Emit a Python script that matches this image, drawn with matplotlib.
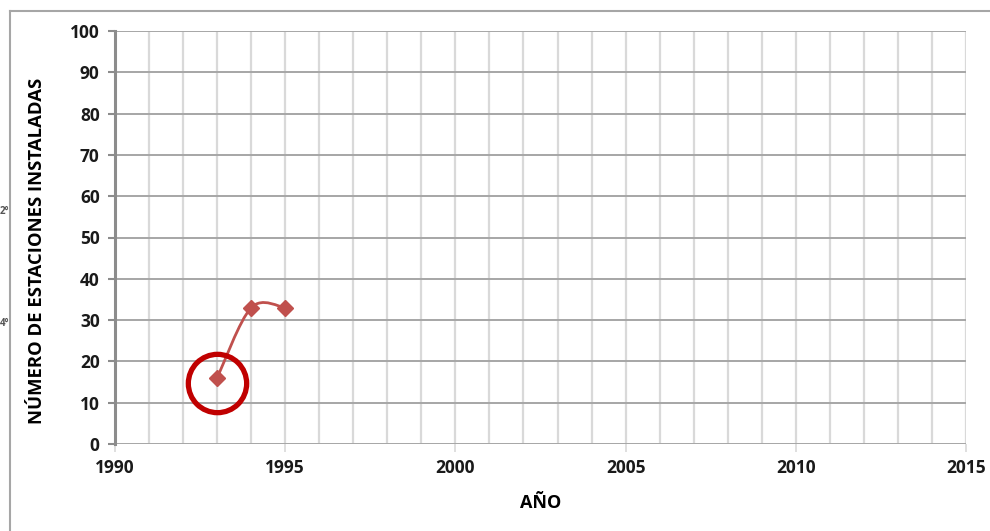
import matplotlib
matplotlib.use('Agg')
import matplotlib.pyplot as plt
from matplotlib.path import Path
from matplotlib.patches import PathPatch
from matplotlib.lines import Line2D

plt.rcParams['font.family'] = ['Open Sans', 'DejaVu Sans']
plt.rcParams['font.weight'] = 'bold'

# stations installed per year
years = [1993, 1994, 1995]
stations = [16, 33, 33]
highlight_year = 1993
highlight_value = 14.8

x_ticks = list(range(1990, 2016, 5))
y_ticks = list(range(0, 101, 10))


def smooth_path(xs, ys):
    # bezier smoothing like spreadsheet "smoothed line" charts
    pts = list(zip(xs, ys))
    verts = [pts[0]]
    codes = [Path.MOVETO]
    n = len(pts)
    for i in range(n - 1):
        p0 = pts[max(i - 1, 0)]
        p1 = pts[i]
        p2 = pts[i + 1]
        p3 = pts[min(i + 2, n - 1)]
        c1 = (p1[0] + (p2[0] - p0[0]) / 6, p1[1] + (p2[1] - p0[1]) / 6)
        c2 = (p2[0] - (p3[0] - p1[0]) / 6, p2[1] - (p3[1] - p1[1]) / 6)
        verts += [c1, c2, p2]
        codes += [Path.CURVE4] * 3
    return Path(verts, codes)


fig = plt.figure(figsize=(9.9, 5.31), dpi=100)
ax = fig.add_axes([115 / 990, 1 - 444 / 531, (966 - 115) / 990, (444 - 31) / 531])

ax.set_xlim(1990, 2015)
ax.set_ylim(0, 100)
ax.set_xticks(x_ticks)
ax.set_xticks(range(1990, 2016), minor=True)
ax.set_yticks(y_ticks)

ax.grid(axis='x', which='both', color='#d9d9d9', lw=1.6)
ax.grid(axis='y', which='major', color='#a6a6a6', lw=1.4)
ax.set_axisbelow(True)

for side in ['top', 'right', 'bottom']:
    ax.spines[side].set_visible(False)
ax.spines['left'].set_color('#8c8c8c')
ax.spines['left'].set_linewidth(2.2)

ax.tick_params(axis='x', which='major', length=6, width=1.2, color='#d9d9d9',
               pad=5, labelsize=12.5)
ax.tick_params(axis='x', which='minor', length=0)
ax.tick_params(axis='y', length=5, width=1.5, color='#8c8c8c', pad=6, labelsize=12.5)
for lab in ax.get_xticklabels() + ax.get_yticklabels():
    lab.set_fontweight('bold')
    lab.set_color('#1a1a1a')

line_color = '#c0504d'
ax.add_patch(PathPatch(smooth_path(years, stations), facecolor='none',
                       edgecolor=line_color, lw=2.0, zorder=3))
ax.plot(years, stations, ls='none', marker='D', ms=8, color=line_color, zorder=4)

# circle marking the first year
ax.plot([highlight_year], [highlight_value], ls='none', marker='o', ms=42,
        mfc='none', mec='#c00000', mew=3.8, zorder=5, clip_on=False)

ax.set_xlabel('AÑO', fontsize=13, fontweight='bold', labelpad=12)
ax.set_ylabel('NÚMERO DE ESTACIONES INSTALADAS', fontsize=13.3, fontweight='bold')
ax.yaxis.set_label_coords(-0.081, 0.467)

# outer chart frame
fig.add_artist(Line2D([10 / 990, 1], [1 - 11 / 531] * 2, color='#a6a6a6', lw=1.5))
fig.add_artist(Line2D([10 / 990] * 2, [0, 1 - 11 / 531], color='#a6a6a6', lw=1.5))

# text from the neighbouring panel at the left edge
fig.text(0.0, 1 - 212 / 531, '2°', fontsize=7, color='#555555', va='center')
fig.text(0.0, 1 - 323 / 531, '4°', fontsize=7, color='#555555', va='center')

fig.savefig('out.png', dpi=100)
